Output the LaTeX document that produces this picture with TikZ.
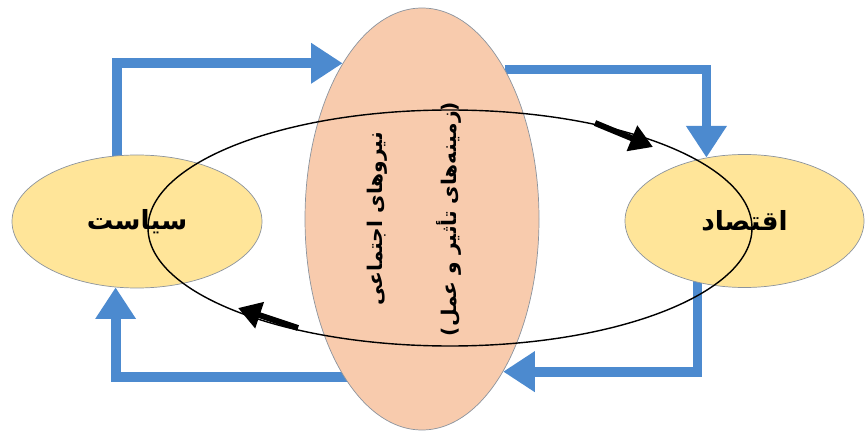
\documentclass[tikz,border=0pt]{standalone}
\usepackage{fontspec}
\usepackage{tikz}
\usetikzlibrary{shapes.geometric, arrows.meta, positioning, backgrounds, calc}
\TeXXeTstate=1
\newfontfamily\farsifont[Script=Arabic]{DejaVu Sans}
\definecolor{flowblue}{RGB}{76,138,207}
\definecolor{forcepeach}{RGB}{248,203,173}
\definecolor{fieldyellow}{RGB}{255,229,153}
\definecolor{edgegray}{RGB}{140,148,158}

\begin{document}
\begin{tikzpicture}[
    field/.style={ellipse, draw=edgegray, fill=fieldyellow, minimum width=5cm, minimum height=2.66cm, inner sep=0pt, font=\farsifont\bfseries\fontsize{15}{18}\selectfont},
    flow/.style={draw=flowblue, line width=5.6pt, -{Triangle[length=18pt, width=22pt]}},
    turn/.style={line width=3.4pt, -{Triangle[length=13pt, width=15pt]}}
]
    \useasboundingbox (0,0) rectangle (17.32,8.6);

    % Fields
    \node[field] (pol) at (2.74,4.17) {\beginR سیاست\endR};
    \node[field, minimum width=4.78cm] (eco) at (14.89,4.18) {\beginR اقتصاد\endR};
    \node[ellipse, draw=edgegray, fill=forcepeach, minimum width=4.68cm, minimum height=8.44cm, inner sep=0pt] (soc) at (8.44,4.22) {};
    \node[rotate=90, align=center, font=\farsifont\bfseries\fontsize{11.5}{42}\selectfont] (soclabel) at ([xshift=-0.16cm]soc.center) {\beginR نیروهای اجتماعی\endR\\\beginR (زمینه‌های تأثیر و عمل)\endR};

    % Loop
    \node[ellipse, draw, line width=0.8pt, minimum width=12.08cm, minimum height=4.72cm, inner sep=0pt] (loop) at (9.0,4.04) {};
    \coordinate (t1) at (11.9,6.14);
    \coordinate (t2) at (13.06,5.66);
    \coordinate (b1) at (5.96,2.04);
    \coordinate (b2) at (4.76,2.44);
    \draw[turn] (t1) -- (t2);
    \draw[turn] (b1) -- (b2);

    % Flows
    \begin{scope}[on background layer]
        \draw[flow] ([xshift=-0.4cm]pol.center) |- (soc.117);
        \draw[flow] (soc.61) -| (eco.121);
        \draw[flow] ([xshift=-0.94cm]eco.center) |- (soc.-62);
        \draw[flow] ([yshift=-3.16cm]soc.center) -| (pol.252);
    \end{scope}
\end{tikzpicture}
\end{document}
